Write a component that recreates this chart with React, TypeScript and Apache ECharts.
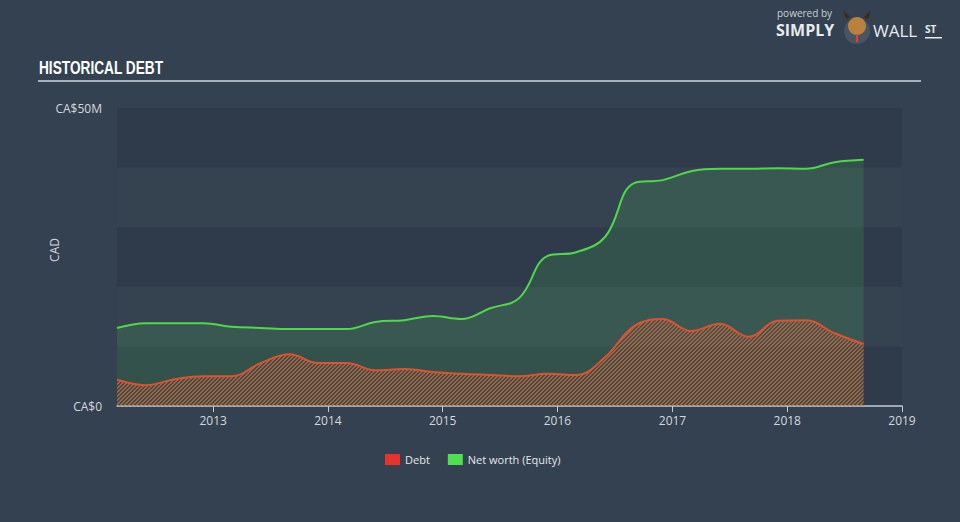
import React, { useEffect, useRef } from "react";
import * as echarts from "echarts";

const dates = [
  "2012-03-01", "2012-06-01", "2012-09-01", "2012-12-01",
  "2013-03-01", "2013-06-01", "2013-09-01", "2013-12-01",
  "2014-03-01", "2014-06-01", "2014-09-01", "2014-12-01",
  "2015-03-01", "2015-06-01", "2015-09-01", "2015-12-01",
  "2016-03-01", "2016-06-01", "2016-09-01", "2016-12-01",
  "2017-03-01", "2017-06-01", "2017-09-01", "2017-12-01",
  "2018-03-01", "2018-06-01", "2018-09-01",
];

// values in CA$ millions
const netWorth = [
  13.1, 13.9, 13.9, 13.9,
  13.3, 13.1, 12.9, 12.9,
  12.9, 14.1, 14.4, 15.1,
  14.6, 16.4, 18.1, 25.2,
  25.8, 28.4, 37.4, 37.9,
  39.4, 39.8, 39.8, 39.9,
  39.8, 40.9, 41.3,
];

const debt = [
  4.4, 3.5, 4.5, 5.0,
  5.0, 7.2, 8.7, 7.2,
  7.2, 6.0, 6.2, 5.7,
  5.4, 5.2, 5.0, 5.4,
  5.2, 8.2, 13.4, 14.6,
  12.6, 13.8, 11.6, 14.3,
  14.4, 12.2, 10.4,
];

const yearTicks = [2013, 2014, 2015, 2016, 2017, 2018, 2019];
const seriesNames = ["Debt", "Net worth (Equity)"];

const ts = (s: string) => new Date(s + "T00:00:00Z").getTime();
const yearTs = (y: number) => Date.UTC(y, 0, 1);

function makeHatch(): string {
  const c = document.createElement("canvas");
  c.width = 4;
  c.height = 4;
  const ctx = c.getContext("2d");
  if (!ctx) return "";
  const img = ctx.createImageData(4, 4);
  for (let y = 0; y < 4; y++) {
    for (let x = 0; x < 4; x++) {
      const i = (y * 4 + x) * 4;
      if ((x + y) % 4 < 2) {
        img.data[i] = 220;
        img.data[i + 1] = 96;
        img.data[i + 2] = 56;
        img.data[i + 3] = 185;
      } else {
        img.data[i + 3] = 0;
      }
    }
  }
  ctx.putImageData(img, 0, 0);
  return c.toDataURL();
}

export default function App() {
  const ref = useRef<HTMLDivElement>(null);
  useEffect(() => {
    document.body.style.margin = "0";
    if (!ref.current) return;
    const chart = echarts.init(ref.current, null, { renderer: "svg" });
    const hatch = makeHatch();
    const toPairs = (arr: number[]) => arr.map((v, i) => [ts(dates[i]), v * 1e6]);
    const labelFont = "'Open Sans', sans-serif";
    const tickValues = yearTicks.map(yearTs);
    chart.setOption({
      animation: false,
      backgroundColor: "#344151",
      grid: { left: 117, right: 58, top: 108, bottom: 116 },
      graphic: [
        {
          type: "text",
          x: 39,
          y: 58,
          scaleX: 0.72,
          style: {
            text: "HISTORICAL DEBT",
            fill: "#ffffff",
            font: "bold 19px 'Liberation Sans Narrow', sans-serif",
          },
        },
        {
          type: "rect",
          shape: { x: 38, y: 80, width: 883, height: 2 },
          style: { fill: "#a9b0b8" },
        },
        {
          type: "text",
          x: 54,
          y: 250,
          rotation: Math.PI / 2,
          style: {
            text: "CAD",
            fill: "#d4d8dc",
            font: "12px 'Open Sans', sans-serif",
            align: "center",
            verticalAlign: "middle",
          },
        },
        {
          type: "text",
          x: 777,
          y: 8,
          style: {
            text: "powered by",
            fill: "#c9ced3",
            font: "10px 'Open Sans', sans-serif",
            verticalAlign: "top",
          },
        },
        {
          type: "text",
          x: 776,
          y: 22,
          style: {
            text: "SIMPLY",
            fill: "#e8eaec",
            font: "bold 16px 'Open Sans', sans-serif",
            verticalAlign: "top",
          },
        },
        {
          type: "circle",
          shape: { cx: 857, cy: 31, r: 13 },
          style: { fill: "#4a5563" },
        },
        {
          type: "circle",
          shape: { cx: 857, cy: 26, r: 9 },
          style: { fill: "#b8813d" },
        },
        {
          type: "polygon",
          shape: { points: [[846, 19], [843, 10], [850, 17]] },
          style: { fill: "#3a2a1a" },
        },
        {
          type: "polygon",
          shape: { points: [[868, 19], [871, 10], [864, 17]] },
          style: { fill: "#3a2a1a" },
        },
        {
          type: "rect",
          shape: { x: 856, y: 34, width: 2, height: 8 },
          style: { fill: "#d9442b" },
        },
        {
          type: "text",
          x: 873,
          y: 22,
          style: {
            text: "WALL",
            fill: "#e8eaec",
            font: "17px 'Open Sans', sans-serif",
            verticalAlign: "top",
          },
        },
        {
          type: "text",
          x: 925,
          y: 24,
          style: {
            text: "ST",
            fill: "#e8eaec",
            font: "bold 10px 'Open Sans', sans-serif",
            verticalAlign: "top",
          },
        },
        {
          type: "rect",
          shape: { x: 925, y: 37, width: 17, height: 1.5 },
          style: { fill: "#e8eaec" },
        },
      ],
      legend: {
        left: 380,
        top: 449,
        icon: "rect",
        itemWidth: 15,
        itemHeight: 11,
        itemGap: 18,
        textStyle: { color: "#e6e8ea", fontSize: 11, fontFamily: labelFont },
        data: [
          { name: seriesNames[0], itemStyle: { color: "#e8332d", borderWidth: 0 } },
          { name: seriesNames[1], itemStyle: { color: "#4fe04f", borderWidth: 0 } },
        ],
      },
      xAxis: {
        type: "value",
        min: ts("2012-03-01"),
        max: yearTs(2019),
        axisLine: { show: true, lineStyle: { color: "#c3cad2", width: 1.5 } },
        axisTick: {
          show: true,
          length: 6,
          lineStyle: { color: "#c3cad2" },
          customValues: tickValues,
        },
        axisLabel: {
          color: "#d4d8dc",
          fontSize: 12,
          fontFamily: labelFont,
          margin: 8,
          customValues: tickValues,
          formatter: (v: number) => String(new Date(v).getUTCFullYear()),
        },
        splitLine: { show: false },
      },
      yAxis: {
        type: "value",
        min: 0,
        max: 50e6,
        interval: 10e6,
        axisLine: { show: false },
        axisTick: { show: false },
        axisLabel: {
          color: "#d4d8dc",
          fontSize: 12,
          fontFamily: labelFont,
          margin: 15,
          formatter: (v: number) => (v === 0 ? "CA$0" : v === 50e6 ? "CA$50M" : ""),
        },
        splitLine: { show: false },
        splitArea: {
          show: true,
          areaStyle: { color: ["#2f3b4a", "#354250"] },
        },
      },
      series: [
        {
          name: seriesNames[1],
          type: "line",
          data: toPairs(netWorth),
          smooth: 0.4,
          showSymbol: false,
          symbol: "none",
          itemStyle: { color: "#4fe04f" },
          lineStyle: { color: "#4fd84a", width: 2 },
          areaStyle: { color: "rgba(74,190,90,0.26)", origin: "start" },
          z: 2,
        },
        {
          name: seriesNames[0],
          type: "line",
          data: toPairs(debt),
          smooth: 0.4,
          showSymbol: false,
          symbol: "none",
          itemStyle: { color: "#e8332d" },
          lineStyle: { color: "#de5230", width: 2 },
          areaStyle: {
            color: { image: hatch, repeat: "repeat", imageWidth: 4, imageHeight: 4 },
            opacity: 1,
            origin: "start",
          },
          z: 3,
        },
      ],
    });
    return () => chart.dispose();
  }, []);
  return (
    <div
      ref={ref}
      style={{ position: "absolute", left: 0, top: 0, width: 960, height: 522 }}
    />
  );
}
